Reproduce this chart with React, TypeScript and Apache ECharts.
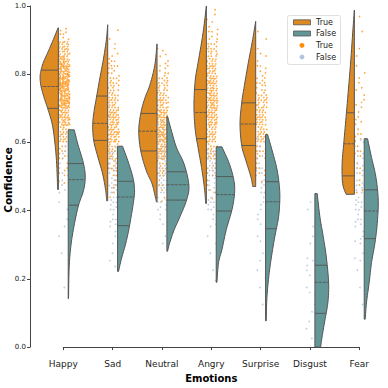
import { useEffect, useRef } from "react";
import * as echarts from "echarts";

// ---------- data ----------
const EMOTIONS = ["Happy", "Sad", "Neutral", "Angry", "Surprise", "Disgust", "Fear"];
const Y_TICKS = [0, 0.2, 0.4, 0.6, 0.8, 1.0];
const HUES = ["True", "False"];
const Y_TITLE = "Confidence";
const X_TITLE = "Emotions";

// Violin profiles: confidence levels (top -> bottom) and half-width as a share of the category spacing
const TRUE_LEVELS: (number[] | null)[] = [
  [0.936, 0.902, 0.863, 0.835, 0.812, 0.791, 0.764, 0.729, 0.7, 0.652, 0.594, 0.536, 0.462],
  [0.945, 0.902, 0.844, 0.786, 0.736, 0.69, 0.652, 0.606, 0.556, 0.507, 0.459, 0.429],
  [0.889, 0.825, 0.767, 0.729, 0.685, 0.633, 0.575, 0.517, 0.479, 0.44, 0.426],
  [1.0, 0.921, 0.844, 0.786, 0.729, 0.688, 0.633, 0.575, 0.517, 0.459, 0.421],
  [0.955, 0.902, 0.835, 0.767, 0.716, 0.654, 0.591, 0.546, 0.498, 0.471],
  null,
  [0.988, 0.921, 0.825, 0.729, 0.652, 0.594, 0.536, 0.479, 0.448],
];
const TRUE_WIDTHS: (number[] | null)[] = [
  [0.006, 0.101, 0.217, 0.304, 0.351, 0.371, 0.351, 0.284, 0.217, 0.122, 0.067, 0.034, 0.014],
  [0.0, 0.026, 0.087, 0.162, 0.223, 0.278, 0.304, 0.284, 0.197, 0.101, 0.041, 0.02],
  [0.0, 0.047, 0.148, 0.249, 0.33, 0.371, 0.33, 0.217, 0.101, 0.034, 0.014],
  [0.0, 0.067, 0.156, 0.223, 0.249, 0.249, 0.223, 0.156, 0.087, 0.034, 0.014],
  [0.0, 0.061, 0.148, 0.229, 0.284, 0.318, 0.284, 0.197, 0.095, 0.061],
  null,
  [0.0, 0.034, 0.081, 0.136, 0.182, 0.217, 0.249, 0.237, 0.168],
];
const TRUE_QUARTILES: (number[] | null)[] = [
  [0.7, 0.764, 0.812],
  [0.606, 0.656, 0.736],
  [0.575, 0.633, 0.685],
  [0.611, 0.688, 0.755],
  [0.591, 0.654, 0.716],
  null,
  [0.502, 0.596, 0.687],
];
const FALSE_LEVELS: number[][] = [
  [0.637, 0.594, 0.538, 0.498, 0.459, 0.416, 0.363, 0.305, 0.238, 0.142],
  [0.589, 0.546, 0.498, 0.459, 0.421, 0.356, 0.305, 0.257, 0.222],
  [0.676, 0.633, 0.584, 0.536, 0.474, 0.431, 0.382, 0.344, 0.305, 0.281],
  [0.587, 0.536, 0.488, 0.45, 0.402, 0.344, 0.286, 0.248, 0.19],
  [0.623, 0.575, 0.527, 0.485, 0.44, 0.382, 0.325, 0.267, 0.209, 0.142, 0.077],
  [0.45, 0.382, 0.325, 0.267, 0.19, 0.132, 0.074, 0.027, 0.0],
  [0.611, 0.556, 0.498, 0.431, 0.363, 0.305, 0.248, 0.19, 0.132, 0.082],
];
const FALSE_WIDTHS: number[][] = [
  [0.122, 0.197, 0.31, 0.345, 0.31, 0.209, 0.128, 0.061, 0.02, 0.006],
  [0.101, 0.209, 0.31, 0.345, 0.318, 0.243, 0.168, 0.075, 0.02],
  [0.014, 0.095, 0.197, 0.351, 0.446, 0.399, 0.264, 0.148, 0.055, 0.014],
  [0.116, 0.27, 0.359, 0.371, 0.318, 0.203, 0.116, 0.047, 0.014],
  [0.041, 0.136, 0.223, 0.27, 0.29, 0.264, 0.189, 0.122, 0.067, 0.026, 0.014],
  [0.047, 0.101, 0.168, 0.229, 0.278, 0.264, 0.197, 0.142, 0.116],
  [0.067, 0.148, 0.237, 0.284, 0.264, 0.217, 0.148, 0.101, 0.047, 0.02],
];
const FALSE_QUARTILES: number[][] = [
  [0.416, 0.491, 0.538],
  [0.356, 0.44, 0.486],
  [0.431, 0.476, 0.514],
  [0.399, 0.447, 0.5],
  [0.347, 0.426, 0.485],
  [0.099, 0.19, 0.24],
  [0.318, 0.399, 0.461],
];

// Strip points: how many observations fall in each 0.05-wide confidence bin (0.00-0.05 ... 0.95-1.00)
const BIN = 0.05;
const TRUE_BIN_COUNTS: number[][] = [
  [0, 0, 0, 0, 0, 0, 0, 0, 0, 3, 6, 12, 25, 45, 70, 80, 60, 35, 8, 0],
  [0, 0, 0, 0, 0, 0, 0, 0, 2, 8, 15, 25, 40, 40, 25, 20, 15, 5, 3, 0],
  [0, 0, 0, 0, 0, 0, 0, 0, 2, 8, 20, 40, 50, 45, 30, 20, 10, 4, 0, 0],
  [0, 0, 0, 0, 0, 0, 0, 0, 2, 5, 10, 20, 30, 40, 45, 40, 30, 20, 10, 5],
  [0, 0, 0, 0, 0, 0, 0, 0, 0, 2, 8, 15, 25, 30, 25, 15, 8, 4, 2, 1],
  [0, 0, 0, 0, 0, 0, 0, 0, 0, 0, 0, 0, 0, 0, 0, 0, 0, 0, 0, 0],
  [0, 0, 0, 0, 0, 0, 0, 0, 0, 5, 8, 8, 8, 6, 6, 5, 3, 3, 1, 2],
];
const FALSE_BIN_COUNTS: number[][] = [
  [0, 0, 0, 1, 0, 1, 1, 3, 3, 5, 6, 6, 2, 0, 0, 0, 0, 0, 0, 0],
  [0, 0, 0, 0, 1, 3, 5, 8, 12, 15, 15, 10, 0, 0, 0, 0, 0, 0, 0, 0],
  [0, 0, 0, 0, 0, 0, 2, 5, 10, 15, 18, 12, 5, 2, 0, 0, 0, 0, 0, 0],
  [0, 0, 0, 1, 1, 1, 2, 5, 10, 14, 14, 10, 0, 0, 0, 0, 0, 0, 0, 0],
  [0, 0, 1, 1, 2, 2, 4, 6, 8, 10, 8, 5, 2, 0, 0, 0, 0, 0, 0, 0],
  [1, 2, 3, 4, 5, 5, 3, 2, 2, 0, 0, 0, 0, 0, 0, 0, 0, 0, 0, 0],
  [0, 1, 1, 1, 2, 4, 6, 8, 10, 12, 12, 8, 3, 0, 0, 0, 0, 0, 0, 0],
];

// ---------- styles ----------
const ORANGE_FILL = "#DE8A22";
const TEAL_FILL = "#639696";
const OUTLINE = "#555555";
const POINT_TRUE = "#FF8C00";
const POINT_FALSE = "#B0C4DE";
const GAP = 0.1; // gap between split halves, share of category spacing
const JIT_MIN = -0.09;
const JIT_MAX = 0.13;
const FONT = "DejaVu Sans";

function buildPoints(counts: number[][], levels: (number[] | null)[]) {
  const out: number[][] = [];
  let k = 0;
  counts.forEach((bins, cat) => {
    const lv = levels[cat];
    if (!lv) return;
    const lo = Math.min(...lv);
    const hi = Math.max(...lv);
    bins.forEach((n, b) => {
      const a = Math.max(b * BIN, lo);
      const z = Math.min((b + 1) * BIN, hi);
      if (z <= a) return;
      for (let j = 0; j < n; j++) {
        const fy = (0.5 + j * 0.569840291) % 1;
        const fx = (0.5 + k * 0.7548776662) % 1;
        k++;
        out.push([cat, a + fy * (z - a), JIT_MIN + fx * (JIT_MAX - JIT_MIN)]);
      }
    });
  });
  return out;
}

function catmull(pts: number[][], steps: number) {
  const out: number[][] = [];
  const n = pts.length;
  for (let i = 0; i < n - 1; i++) {
    const p0 = pts[Math.max(i - 1, 0)];
    const p1 = pts[i];
    const p2 = pts[i + 1];
    const p3 = pts[Math.min(i + 2, n - 1)];
    for (let s = 0; s < steps; s++) {
      const t = s / steps;
      const t2 = t * t;
      const t3 = t2 * t;
      const f = (a: number, b: number, c: number, d: number) =>
        0.5 * (2 * b + (-a + c) * t + (2 * a - 5 * b + 4 * c - d) * t2 + (-a + 3 * b - 3 * c + d) * t3);
      out.push([f(p0[0], p1[0], p2[0], p3[0]), f(p0[1], p1[1], p2[1], p3[1])]);
    }
  }
  out.push(pts[n - 1]);
  return out;
}

function widthAt(levels: number[], widths: number[], v: number) {
  for (let i = 0; i < levels.length - 1; i++) {
    const a = levels[i];
    const b = levels[i + 1];
    if (v <= a && v >= b) {
      const t = (a - v) / (a - b || 1);
      return widths[i] + t * (widths[i + 1] - widths[i]);
    }
  }
  return 0;
}

function makeViolinRenderer(levelsArr: (number[] | null)[], widthsArr: (number[] | null)[], quartArr: (number[] | null)[], side: number, fill: string) {
  return (params: any, api: any) => {
    const cat = api.value(0);
    const levels = levelsArr[cat];
    const widths = widthsArr[cat];
    const quart = quartArr[cat];
    if (!levels || !widths || !quart) return { type: "group", children: [] };
    const band = api.size([1, 0])[0];
    const base = api.coord([cat, 0])[0] + side * GAP * band;
    const outer = levels.map((lv, i) => [base + side * widths[i] * band, api.coord([cat, lv])[1]]);
    const smooth = catmull(outer, 6).map((p) => [side * (p[0] - base) < 0 ? base : p[0], p[1]]);
    const yTop = api.coord([cat, levels[0]])[1];
    const yBot = api.coord([cat, levels[levels.length - 1]])[1];
    const poly = [[base, yTop], ...smooth, [base, yBot]];
    const children: any[] = [
      {
        type: "polygon",
        shape: { points: poly },
        style: { fill, stroke: OUTLINE, lineWidth: 1 },
      },
    ];
    quart.forEach((q, i) => {
      const w = widthAt(levels, widths, q) * band;
      const y = api.coord([cat, q])[1];
      children.push({
        type: "line",
        shape: { x1: base, y1: y, x2: base + side * w, y2: y },
        style: { stroke: OUTLINE, lineWidth: 0.9, lineDash: i === 1 ? [3, 1] : "solid" },
      });
    });
    return { type: "group", children };
  };
}

function makePointRenderer(color: string, opacity: number) {
  return (params: any, api: any) => {
    const p = api.coord([api.value(0), api.value(1)]);
    const band = api.size([1, 0])[0];
    return {
      type: "circle",
      shape: { cx: p[0] + api.value(2) * band, cy: p[1], r: 0.85 },
      style: { fill: color, opacity },
    };
  };
}

export default function App() {
  const ref = useRef<HTMLDivElement>(null);
  useEffect(() => {
    const chart = echarts.init(ref.current!, null, { renderer: "svg" });
    const truePts = buildPoints(TRUE_BIN_COUNTS, TRUE_LEVELS);
    const falsePts = buildPoints(FALSE_BIN_COUNTS, FALSE_LEVELS);
    const trueViolinData = EMOTIONS.map((_, i) => (TRUE_QUARTILES[i] ? [i, TRUE_QUARTILES[i]![1]] : null)).filter(Boolean);
    const falseViolinData = EMOTIONS.map((_, i) => [i, FALSE_QUARTILES[i][1]]);

    const legendX = 287.5;
    const legendY = 15.5;
    const rowY = [22.3, 33.5, 45.3, 57];
    const legend = {
      type: "group",
      children: [
        { type: "rect", shape: { x: legendX, y: legendY, width: 53, height: 49, r: 2 }, style: { fill: "rgba(255,255,255,0.85)", stroke: "#d8d8d8", lineWidth: 0.8 } },
        { type: "rect", shape: { x: 293.5, y: rowY[0] - 2.5, width: 17, height: 5 }, style: { fill: ORANGE_FILL, stroke: OUTLINE, lineWidth: 0.8 } },
        { type: "rect", shape: { x: 293.5, y: rowY[1] - 2.5, width: 17, height: 5 }, style: { fill: TEAL_FILL, stroke: OUTLINE, lineWidth: 0.8 } },
        { type: "circle", shape: { cx: 302, cy: rowY[2], r: 2.4 }, style: { fill: POINT_TRUE } },
        { type: "circle", shape: { cx: 302, cy: rowY[3], r: 2.4 }, style: { fill: POINT_FALSE } },
        ...[HUES[0], HUES[1], HUES[0], HUES[1]].map((t, i) => ({
          type: "text",
          x: 316,
          y: rowY[i],
          style: { text: t, fontFamily: FONT, fontSize: 8, fill: "#222", verticalAlign: "middle", align: "left" },
        })),
      ],
    };
    const yTitle = {
      type: "text",
      x: 7.5,
      y: 180,
      rotation: Math.PI / 2,
      style: { text: Y_TITLE, fontFamily: FONT, fontSize: 10.5, fontWeight: "bold", fill: "#000", align: "center", verticalAlign: "middle" },
    };

    chart.setOption({
      animation: false,
      backgroundColor: "#ffffff",
      grid: { left: 63.3, right: 28.7, top: 6, bottom: 35.5 },
      xAxis: {
        type: "category",
        data: EMOTIONS,
        boundaryGap: false,
        offset: 9,
        name: X_TITLE,
        nameLocation: "middle",
        nameGap: 11,
        nameTextStyle: { fontFamily: FONT, fontSize: 10, fontWeight: "bold", color: "#000", verticalAlign: "top" },
        axisLine: { show: true, lineStyle: { color: "#444", width: 1 } },
        axisTick: { show: true, length: 3, alignWithLabel: true, lineStyle: { color: "#444" } },
        axisLabel: { fontFamily: FONT, fontSize: 9, color: "#222", margin: 3, interval: 0 },
        splitLine: { show: false },
      },
      yAxis: {
        type: "value",
        min: Y_TICKS[0],
        max: Y_TICKS[Y_TICKS.length - 1],
        interval: 0.2,
        offset: 33.3,
        axisLine: { show: true, lineStyle: { color: "#444", width: 1 } },
        axisTick: { show: true, length: 3, lineStyle: { color: "#444" } },
        axisLabel: { fontFamily: FONT, fontSize: 7, color: "#222", margin: 4, formatter: (v: number) => v.toFixed(1) },
        splitLine: { show: false },
      },
      graphic: [legend, yTitle],
      series: [
        {
          type: "custom",
          name: "True points",
          coordinateSystem: "cartesian2d",
          data: truePts,
          encode: { x: 0, y: 1 },
          renderItem: makePointRenderer(POINT_TRUE, 0.75),
          silent: true,
          z: 2,
        },
        {
          type: "custom",
          name: "False points",
          coordinateSystem: "cartesian2d",
          data: falsePts,
          encode: { x: 0, y: 1 },
          renderItem: makePointRenderer(POINT_FALSE, 0.85),
          silent: true,
          z: 2,
        },
        {
          type: "custom",
          name: "True",
          coordinateSystem: "cartesian2d",
          data: trueViolinData,
          encode: { x: 0, y: 1 },
          renderItem: makeViolinRenderer(TRUE_LEVELS, TRUE_WIDTHS, TRUE_QUARTILES, -1, ORANGE_FILL),
          silent: true,
          z: 3,
        },
        {
          type: "custom",
          name: "False",
          coordinateSystem: "cartesian2d",
          data: falseViolinData,
          encode: { x: 0, y: 1 },
          renderItem: makeViolinRenderer(FALSE_LEVELS, FALSE_WIDTHS, FALSE_QUARTILES, 1, TEAL_FILL),
          silent: true,
          z: 3,
        },
      ],
    });
    return () => chart.dispose();
  }, []);
  return <div ref={ref} style={{ position: "fixed", left: 0, top: 0, width: 388, height: 388 }} />;
}
